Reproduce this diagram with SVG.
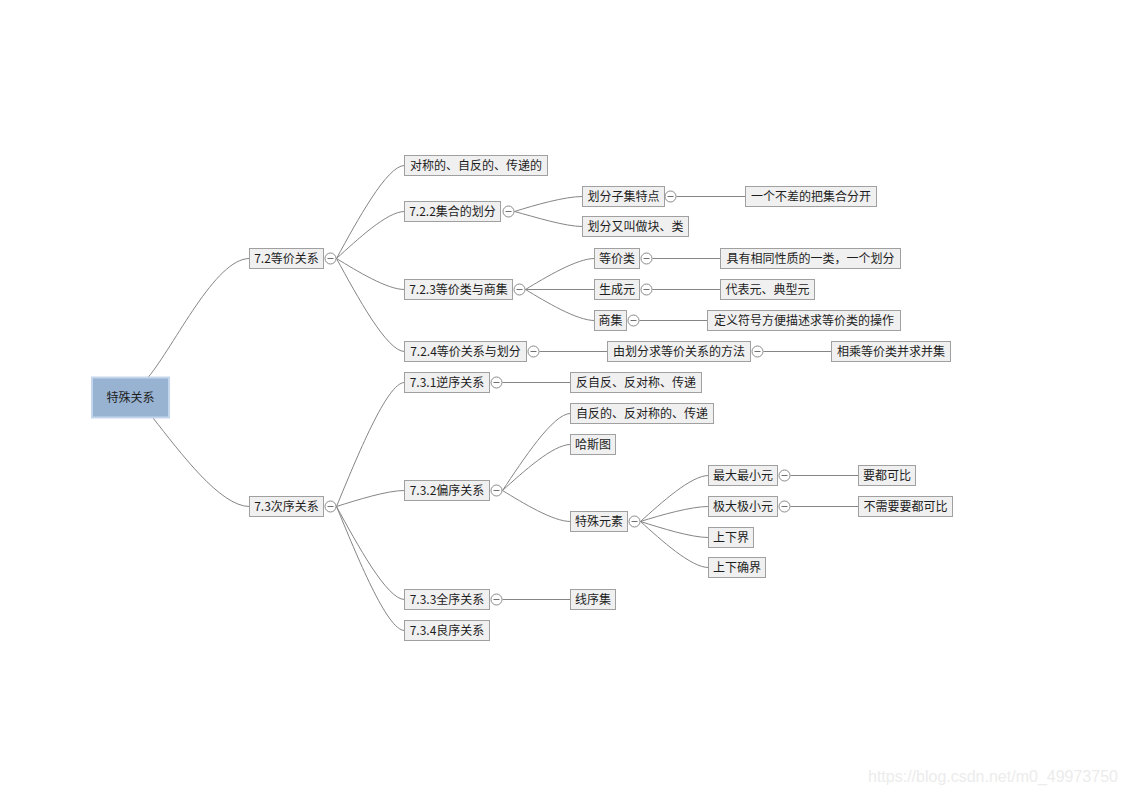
<svg xmlns="http://www.w3.org/2000/svg" width="1124" height="796" viewBox="0 0 1124 796">
<style>
.n rect{fill:#f0f0f0;stroke:#a0a0a0;stroke-width:1}
text{font-family:"Noto Sans CJK SC","Microsoft YaHei",sans-serif;font-size:12px;fill:#1e1e1e;text-anchor:middle}
.c{fill:none;stroke:#858585;stroke-width:1}
.t circle{fill:#fff;stroke:#8a8a8a;stroke-width:1}
.t line{stroke:#707070;stroke-width:1}
</style>
<rect width="1124" height="796" fill="#fff"/>
<g id="connectors" class="c">
<path d="M148,377.5 C175,345 215,258.5 249.5,258.5"/>
<path d="M153,418 C180,452 220,506.5 249.5,506.5"/>
<path d="M336.5,258.5 C357,221 387,165.5 404.5,165.5"/>
<path d="M336.5,258.5 C357,240 387,211.5 404.5,211.5"/>
<path d="M336.5,258.5 C357,271 387,289.5 404.5,289.5"/>
<path d="M336.5,258.5 C357,296 387,351.5 404.5,351.5"/>
<path d="M336.5,506.5 C357,457 387,382.5 404.5,382.5"/>
<path d="M336.5,506.5 C357,500 387,490.5 404.5,490.5"/>
<path d="M336.5,506.5 C357,544 387,599.5 404.5,599.5"/>
<path d="M336.5,506.5 C357,556 387,630.5 404.5,630.5"/>
<path d="M514.5,211.5 C535,205 565,196.5 582.5,196.5"/>
<path d="M514.5,211.5 C535,217 565,226.5 582.5,226.5"/>
<path d="M525.5,289.5 C546,277 577,258.5 594.5,258.5"/>
<path d="M525.5,289.5 L594.5,289.5"/>
<path d="M525.5,289.5 C546,302 577,320.5 594.5,320.5"/>
<path d="M502.5,490.5 C523,460 553,413.5 570.5,413.5"/>
<path d="M502.5,490.5 C523,472 553,444.5 570.5,444.5"/>
<path d="M502.5,490.5 C523,503 553,521.5 570.5,521.5"/>
<path d="M640.5,521.5 C661,503 691,475.5 708.5,475.5"/>
<path d="M640.5,521.5 C661,515 691,506.5 708.5,506.5"/>
<path d="M640.5,521.5 C661,528 691,537.5 708.5,537.5"/>
<path d="M640.5,521.5 C661,540 691,567.5 708.5,567.5"/>
<path d="M539.5,351.5 L607.5,351.5"/>
<path d="M763.5,351.5 L831.5,351.5"/>
<path d="M502.5,382.5 L570.5,382.5"/>
<path d="M502.5,599.5 L570.5,599.5"/>
<path d="M676.5,196.5 L745.5,196.5"/>
<path d="M652.5,258.5 L720.5,258.5"/>
<path d="M652.5,289.5 L720.5,289.5"/>
<path d="M639.5,320.5 L707.5,320.5"/>
<path d="M790.5,475.5 L858.5,475.5"/>
<path d="M790.5,506.5 L858.5,506.5"/>
</g>
<g id="root"><rect x="92" y="377.5" width="77" height="40" fill="#98b3d1" stroke="#c3d6ec" stroke-width="2"/><text x="130.5" y="402">特殊关系</text></g>
<g id="n72" class="n"><rect x="249.5" y="248.5" width="74" height="20"/><text x="286.5" y="263">7.2等价关系</text></g>
<g id="n73" class="n"><rect x="249.5" y="496.5" width="74" height="20"/><text x="286.5" y="511">7.3次序关系</text></g>
<g id="n721" class="n"><rect x="404.5" y="155.5" width="143" height="20"/><text x="476" y="170">对称的、自反的、传递的</text></g>
<g id="n722" class="n"><rect x="404.5" y="201.5" width="96" height="20"/><text x="452.5" y="216">7.2.2集合的划分</text></g>
<g id="n723" class="n"><rect x="404.5" y="279.5" width="108" height="20"/><text x="458.5" y="294">7.2.3等价类与商集</text></g>
<g id="n724" class="n"><rect x="404.5" y="341.5" width="122" height="20"/><text x="465.5" y="356">7.2.4等价关系与划分</text></g>
<g id="n731" class="n"><rect x="404.5" y="372.5" width="85" height="20"/><text x="447" y="387">7.3.1逆序关系</text></g>
<g id="n732" class="n"><rect x="404.5" y="480.5" width="85" height="20"/><text x="447" y="495">7.3.2偏序关系</text></g>
<g id="n733" class="n"><rect x="404.5" y="589.5" width="85" height="20"/><text x="447" y="604">7.3.3全序关系</text></g>
<g id="n734" class="n"><rect x="404.5" y="620.5" width="85" height="20"/><text x="447" y="635">7.3.4良序关系</text></g>
<g id="a1" class="n"><rect x="582.5" y="186.5" width="82" height="20"/><text x="623.5" y="201">划分子集特点</text></g>
<g id="a2" class="n"><rect x="582.5" y="216.5" width="106" height="20"/><text x="635.5" y="231">划分又叫做块、类</text></g>
<g id="a3" class="n"><rect x="745.5" y="186.5" width="131" height="20"/><text x="811" y="201">一个不差的把集合分开</text></g>
<g id="b1" class="n"><rect x="594.5" y="248.5" width="45" height="20"/><text x="617" y="263">等价类</text></g>
<g id="b2" class="n"><rect x="720.5" y="248.5" width="180" height="20"/><text x="810.5" y="263">具有相同性质的一类，一个划分</text></g>
<g id="b3" class="n"><rect x="594.5" y="279.5" width="45" height="20"/><text x="617" y="294">生成元</text></g>
<g id="b4" class="n"><rect x="720.5" y="279.5" width="94" height="20"/><text x="767.5" y="294">代表元、典型元</text></g>
<g id="b5" class="n"><rect x="594.5" y="310.5" width="32" height="20"/><text x="610.5" y="325">商集</text></g>
<g id="b6" class="n"><rect x="707.5" y="310.5" width="193" height="20"/><text x="804" y="325">定义符号方便描述求等价类的操作</text></g>
<g id="c1" class="n"><rect x="607.5" y="341.5" width="143" height="20"/><text x="679" y="356">由划分求等价关系的方法</text></g>
<g id="c2" class="n"><rect x="831.5" y="341.5" width="119" height="20"/><text x="891" y="356">相乘等价类并求并集</text></g>
<g id="d1" class="n"><rect x="570.5" y="372.5" width="131" height="20"/><text x="636" y="387">反自反、反对称、传递</text></g>
<g id="e1" class="n"><rect x="570.5" y="403.5" width="143" height="20"/><text x="642" y="418">自反的、反对称的、传递</text></g>
<g id="e2" class="n"><rect x="570.5" y="434.5" width="45" height="20"/><text x="593" y="449">哈斯图</text></g>
<g id="e3" class="n"><rect x="570.5" y="511.5" width="57" height="20"/><text x="599" y="526">特殊元素</text></g>
<g id="f1" class="n"><rect x="570.5" y="589.5" width="45" height="20"/><text x="593" y="604">线序集</text></g>
<g id="g1" class="n"><rect x="708.5" y="465.5" width="69" height="20"/><text x="743" y="480">最大最小元</text></g>
<g id="g2" class="n"><rect x="858.5" y="465.5" width="57" height="20"/><text x="887" y="480">要都可比</text></g>
<g id="g3" class="n"><rect x="708.5" y="496.5" width="69" height="20"/><text x="743" y="511">极大极小元</text></g>
<g id="g4" class="n"><rect x="858.5" y="496.5" width="94" height="20"/><text x="905.5" y="511">不需要要都可比</text></g>
<g id="g5" class="n"><rect x="708.5" y="527.5" width="45" height="20"/><text x="731" y="542">上下界</text></g>
<g id="g6" class="n"><rect x="708.5" y="557.5" width="57" height="20"/><text x="737" y="572">上下确界</text></g>
<g id="toggles" class="t">
<circle cx="330.5" cy="258.5" r="5.5"/><line x1="327.5" y1="258.5" x2="333.5" y2="258.5"/>
<circle cx="330.5" cy="506.5" r="5.5"/><line x1="327.5" y1="506.5" x2="333.5" y2="506.5"/>
<circle cx="508.5" cy="211.5" r="5.5"/><line x1="505.5" y1="211.5" x2="511.5" y2="211.5"/>
<circle cx="519.5" cy="289.5" r="5.5"/><line x1="516.5" y1="289.5" x2="522.5" y2="289.5"/>
<circle cx="533.5" cy="351.5" r="5.5"/><line x1="530.5" y1="351.5" x2="536.5" y2="351.5"/>
<circle cx="496.5" cy="382.5" r="5.5"/><line x1="493.5" y1="382.5" x2="499.5" y2="382.5"/>
<circle cx="496.5" cy="490.5" r="5.5"/><line x1="493.5" y1="490.5" x2="499.5" y2="490.5"/>
<circle cx="496.5" cy="599.5" r="5.5"/><line x1="493.5" y1="599.5" x2="499.5" y2="599.5"/>
<circle cx="670.5" cy="196.5" r="5.5"/><line x1="667.5" y1="196.5" x2="673.5" y2="196.5"/>
<circle cx="646.5" cy="258.5" r="5.5"/><line x1="643.5" y1="258.5" x2="649.5" y2="258.5"/>
<circle cx="646.5" cy="289.5" r="5.5"/><line x1="643.5" y1="289.5" x2="649.5" y2="289.5"/>
<circle cx="633.5" cy="320.5" r="5.5"/><line x1="630.5" y1="320.5" x2="636.5" y2="320.5"/>
<circle cx="757.5" cy="351.5" r="5.5"/><line x1="754.5" y1="351.5" x2="760.5" y2="351.5"/>
<circle cx="634.5" cy="521.5" r="5.5"/><line x1="631.5" y1="521.5" x2="637.5" y2="521.5"/>
<circle cx="784.5" cy="475.5" r="5.5"/><line x1="781.5" y1="475.5" x2="787.5" y2="475.5"/>
<circle cx="784.5" cy="506.5" r="5.5"/><line x1="781.5" y1="506.5" x2="787.5" y2="506.5"/>
</g>
<text x="868" y="782" style="font-family:'Liberation Sans',Arial,sans-serif;font-size:16px;fill:#ececec;text-anchor:start">https://blog.csdn.net/m0_49973750</text>
</svg>
